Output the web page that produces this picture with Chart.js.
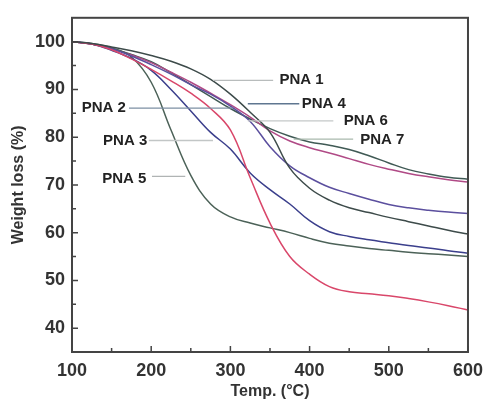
<!DOCTYPE html>
<html>
<head>
<meta charset="utf-8">
<script src="https://cdn.jsdelivr.net/npm/chart.js@4/dist/chart.umd.min.js"></script>
<style>
  html, body { margin: 0; padding: 0; background: #fff; }
  #wrap { width: 491px; height: 403px; position: relative; }
</style>
</head>
<body>
<div id="wrap"><canvas id="tga"></canvas></div>
<script>
// temperatures (°C) and weight (%)
const temps = [100, 125, 150, 175, 200, 225, 250, 275, 300, 325, 350, 375, 400, 425, 450, 475, 500, 525, 550, 575, 600];

const pna1 = [100, 99.6, 98.9, 98.1, 97.1, 95.9, 94.3, 92.1, 89, 85.2, 81, 73.5, 69.3, 66.8, 65.2, 64.2, 63.2, 62.3, 61.4, 60.5, 59.7];
const pna2 = [100, 99.5, 98.3, 96.4, 94.2, 91.8, 89.2, 86, 81.5, 71.5, 62, 55, 51.3, 48.7, 47.6, 47.2, 46.8, 46.2, 45.5, 44.7, 43.8];
const pna3 = [100, 99.5, 98.2, 96.5, 94, 90, 85.5, 81, 77.5, 72.5, 69, 66, 62.5, 60.2, 59.2, 58.5, 57.9, 57.3, 56.8, 56.2, 55.7];
const pna4 = [100, 99.5, 98.5, 97, 95.2, 93.2, 91, 89, 86.5, 83.3, 78, 74, 71.5, 69.5, 68.2, 67, 65.9, 65.2, 64.7, 64.3, 64];
const pna5 = [100, 99.6, 98.7, 96.8, 91.5, 81.5, 72, 66, 63.3, 62, 61, 60, 58.8, 57.8, 57.2, 56.7, 56.3, 55.9, 55.6, 55.3, 55];
const pna6 = [100, 99.5, 98.5, 97.2, 95.6, 93.6, 91.5, 89.2, 86.8, 84.2, 81.3, 79.2, 77.8, 76.7, 75.5, 74.3, 73.3, 72.4, 71.7, 71.1, 70.6];
const pna7 = [100, 99.5, 98.6, 97.3, 95.8, 93.5, 91, 88.5, 86, 83.8, 81.8, 80.2, 79, 78.3, 77.4, 76.1, 74.6, 73.2, 72.3, 71.6, 71.2];

const xTicks = [100, 200, 300, 400, 500, 600];
const yTicks = [40, 50, 60, 70, 80, 90, 100];

// label callouts: name, text anchor (°C, %), leader start/end (°C) and leader height (%)
const calloutNames = ['PNA 1', 'PNA 2', 'PNA 3', 'PNA 4', 'PNA 5', 'PNA 6', 'PNA 7'];
const calloutTextX = [362, 168, 195, 390, 194, 443, 464];
const calloutTextY = [91.9, 86.2, 79.3, 87.0, 71.2, 83.4, 79.5];
const calloutAlign = ['left', 'right', 'right', 'left', 'right', 'left', 'left'];
const leaderFrom = [278, 172, 197, 322, 201, 322, 380];
const leaderTo = [354, 303, 278, 387, 243, 430, 455];
const leaderY = [91.9, 86.1, 79.3, 87.0, 71.8, 83.4, 79.6];
const leaderColors = ['#b8bcbc', '#7d8fa3', '#c2c6c6', '#5f7690', '#b0b4b4', '#c4c8c8', '#a9b9ad'];

const series = [
    { label: 'PNA 1', values: pna1, color: '#3d4b4a' },
    { label: 'PNA 2', values: pna2, color: '#d9476a' },
    { label: 'PNA 3', values: pna3, color: '#3b3f8c' },
    { label: 'PNA 4', values: pna4, color: '#5b4f9e' },
    { label: 'PNA 5', values: pna5, color: '#4c6258' },
    { label: 'PNA 6', values: pna6, color: '#b04a86' },
    { label: 'PNA 7', values: pna7, color: '#405a55' }
];

const frameColor = '#444';

const framePlugin = {
    id: 'frameAndTicks',
    afterDatasetsDraw(chart) {
        const { ctx, chartArea: a, scales: { x, y } } = chart;
        ctx.save();

        // leaders + callout text
        calloutNames.forEach((name, i) => {
            const py = y.getPixelForValue(leaderY[i]);
            ctx.strokeStyle = leaderColors[i];
            ctx.lineWidth = 1.3;
            ctx.beginPath();
            ctx.moveTo(x.getPixelForValue(leaderFrom[i]), py);
            ctx.lineTo(x.getPixelForValue(leaderTo[i]), py);
            ctx.stroke();

            ctx.font = "bold 15px 'Liberation Sans', Arial, sans-serif";
            ctx.fillStyle = '#222';
            ctx.textAlign = calloutAlign[i];
            ctx.textBaseline = 'middle';
            ctx.fillText(name, x.getPixelForValue(calloutTextX[i]), y.getPixelForValue(calloutTextY[i]));
        });

        // frame
        ctx.strokeStyle = frameColor;
        ctx.lineWidth = 2;
        ctx.strokeRect(a.left, a.top, a.right - a.left, a.bottom - a.top);

        // inward ticks, bottom and left
        ctx.lineWidth = 1.5;
        ctx.beginPath();
        for (let v = 100; v <= 600; v += 50) {
            const px = x.getPixelForValue(v);
            const len = v % 100 === 0 ? 6 : 4;
            ctx.moveTo(px, a.bottom);
            ctx.lineTo(px, a.bottom - len);
        }
        for (let v = 40; v <= 100; v += 5) {
            const py = y.getPixelForValue(v);
            const len = v % 10 === 0 ? 6 : 4;
            ctx.moveTo(a.left, py);
            ctx.lineTo(a.left + len, py);
        }
        ctx.stroke();
        ctx.restore();
    }
};

const tickFont = { family: "'Liberation Sans', Arial, sans-serif", size: 18, weight: 'bold' };
const titleFont = { family: "'Liberation Sans', Arial, sans-serif", size: 16, weight: 'bold' };

new Chart(document.getElementById('tga'), {
    type: 'line',
    data: {
        datasets: series.map(s => ({
            label: s.label,
            data: temps.map((t, i) => ({ x: t, y: s.values[i] })),
            borderColor: s.color,
            borderWidth: 1.5,
            pointRadius: 0,
            fill: false,
            tension: 0.4
        }))
    },
    options: {
        responsive: true,
        maintainAspectRatio: false,
        animation: false,
        layout: { padding: { left: 0, right: 18, top: 14, bottom: 0 } },
        plugins: {
            legend: { display: false },
            tooltip: { enabled: false }
        },
        scales: {
            x: {
                type: 'linear',
                min: 100,
                max: 600,
                afterBuildTicks: scale => { scale.ticks = xTicks.map(v => ({ value: v })); },
                afterFit: scale => { scale.height = 51; },
                grid: { display: false, drawTicks: false },
                border: { display: false },
                ticks: { color: '#333', font: tickFont, padding: 8, maxRotation: 0 },
                title: { display: true, text: 'Temp. (°C)', color: '#333', font: titleFont, padding: { top: 0, bottom: 2 } }
            },
            y: {
                min: 35,
                max: 105,
                afterBuildTicks: scale => { scale.ticks = yTicks.map(v => ({ value: v })); },
                afterFit: scale => { scale.width = 72; },
                grid: { display: false, drawTicks: false },
                border: { display: false },
                ticks: { color: '#333', font: tickFont, padding: 7 },
                title: { display: true, text: 'Weight loss (%)', color: '#333', font: titleFont, padding: { top: 9, bottom: 0 } }
            }
        }
    },
    plugins: [framePlugin]
});
</script>
</body>
</html>
